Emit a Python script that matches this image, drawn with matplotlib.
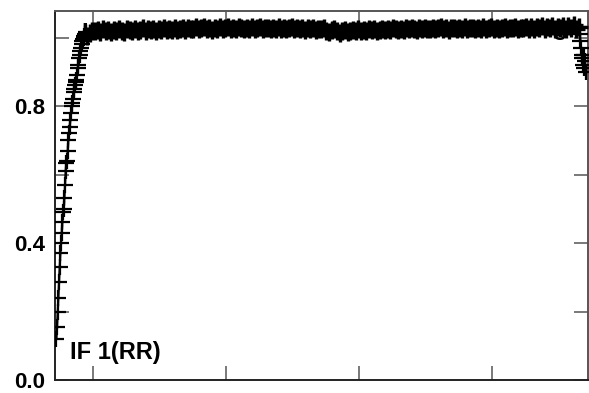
import numpy as np
import matplotlib
matplotlib.use("Agg")
import matplotlib.pyplot as plt

plt.rcParams['font.family'] = ['Liberation Sans', 'DejaVu Sans']

# Bandpass amplitude
# rising band edge, one value per channel from channel 145
rise_start = 145
rise_amp = [0.12, 0.155, 0.20, 0.24, 0.285, 0.33, 0.37, 0.40, 0.43, 0.46,
            0.49, 0.50, 0.53, 0.57, 0.61, 0.635, 0.64, 0.67, 0.70, 0.72,
            0.74, 0.76, 0.78, 0.80, 0.81, 0.82, 0.84, 0.85, 0.86, 0.87,
            0.875, 0.89, 0.91, 0.92, 0.94, 0.95, 0.96, 0.97, 0.98, 0.99,
            0.995, 1.0, 1.005, 1.01, 1.012, 1.015]

# flat part of the band, every 4th channel from channel 191
flat_start = 191
flat_step = 4
flat_amp = [1.005, 1.012, 1.018, 1.02, 1.022, 1.015, 1.024, 1.019, 1.021, 1.017,
            1.023, 1.018, 1.025, 1.02, 1.016, 1.024, 1.021, 1.019, 1.026, 1.02,
            1.022, 1.027, 1.019, 1.024, 1.021, 1.026, 1.02, 1.025, 1.022, 1.028,
            1.021, 1.026, 1.023, 1.029, 1.022, 1.025, 1.027, 1.021, 1.028, 1.024,
            1.026, 1.03, 1.024, 1.027, 1.031, 1.025, 1.028, 1.023, 1.029, 1.026,
            1.03, 1.025, 1.028, 1.032, 1.026, 1.029, 1.024, 1.03, 1.027, 1.025,
            1.029, 1.026, 1.031, 1.025, 1.028, 1.03, 1.024, 1.027, 1.029, 1.026,
            1.028, 1.024, 1.03, 1.026, 1.029, 1.025, 1.027, 1.031, 1.024, 1.028,
            1.026, 1.029, 1.023, 1.027, 1.025, 1.028, 1.022, 1.026, 1.024, 1.027,
            1.02, 1.016, 1.022, 1.025, 1.018, 1.014, 1.019, 1.021, 1.017, 1.02,
            1.022, 1.018, 1.024, 1.02, 1.023, 1.019, 1.025, 1.021, 1.024, 1.02,
            1.023, 1.026, 1.021, 1.025, 1.022, 1.027, 1.024, 1.022, 1.026, 1.023,
            1.027, 1.024, 1.028, 1.025, 1.022, 1.027, 1.024, 1.029, 1.025, 1.026,
            1.028, 1.024, 1.027, 1.03, 1.025, 1.028, 1.023, 1.027, 1.029, 1.025,
            1.028, 1.026, 1.03, 1.024, 1.027, 1.029, 1.025, 1.028, 1.026, 1.03,
            1.025, 1.028, 1.031, 1.026, 1.029, 1.024, 1.028, 1.03, 1.026, 1.029,
            1.027, 1.031, 1.025, 1.029, 1.027, 1.032, 1.026, 1.03, 1.024, 1.031,
            1.027, 1.033, 1.025, 1.031, 1.028, 1.034, 1.024, 1.032, 1.027, 1.035,
            1.026, 1.033, 1.029, 1.036, 1.025, 1.03]

# falling band edge, one value per channel from channel 932
edge_start = 932
edge_amp = [1.01, 0.99, 0.97, 0.95, 0.94, 0.92, 0.95, 0.91, 0.93, 0.90]

x_ticks = [200, 400, 600, 800]
y_ticks = [0.0, 0.2, 0.4, 0.6, 0.8, 1.0]
y_ticklabels = ['0.0', '', '0.4', '', '0.8', '']

rise_ch = np.arange(rise_start, rise_start + len(rise_amp))
flat_ch = flat_start + flat_step * np.arange(len(flat_amp))
edge_ch = np.arange(edge_start, edge_start + len(edge_amp))
chan = np.concatenate([rise_ch, flat_ch, edge_ch])
amp = np.concatenate([rise_amp, flat_amp, edge_amp])

fig = plt.figure(figsize=(5.89, 3.93), dpi=100)
ax = fig.add_axes([55 / 589, 13 / 393, 533 / 589, 369 / 393])

# connecting trace with pluses, then heavier pluses where the band is flat
ax.plot(chan, amp, color='black', lw=1.6, marker='+', ms=11, mew=1.6, zorder=3)
ax.plot(flat_ch, flat_amp, ls='none', color='black', marker='+', ms=12.5,
        mew=2.4, zorder=3)

ax.set_xlim(142.9, 944.4)
ax.set_ylim(0, 1.0774)
ax.set_xticks(x_ticks)
ax.set_xticklabels([])
ax.set_yticks(y_ticks)
ax.set_yticklabels(y_ticklabels, fontsize=16, fontweight='bold')
ax.tick_params(direction='in', length=10, width=1.1, color='#555555',
               top=True, right=True, pad=7)

for side in ['left', 'bottom']:
    ax.spines[side].set_color('#222222')
    ax.spines[side].set_linewidth(1.4)
for side in ['top', 'right']:
    ax.spines[side].set_color('#555555')
    ax.spines[side].set_linewidth(1.4)

ax.text(0.028, 0.057, 'IF 1(RR)', transform=ax.transAxes, fontsize=17,
        fontweight='bold', va='baseline', ha='left', zorder=1)
ax.text(0.049, 0.921, 'L', transform=ax.transAxes, fontsize=17,
        fontweight='bold', va='baseline', ha='left', zorder=1)
ax.text(0.934, 0.935, 'g', transform=ax.transAxes, fontsize=17,
        fontweight='bold', va='baseline', ha='left', zorder=1)

fig.savefig('out.png', dpi=100)
